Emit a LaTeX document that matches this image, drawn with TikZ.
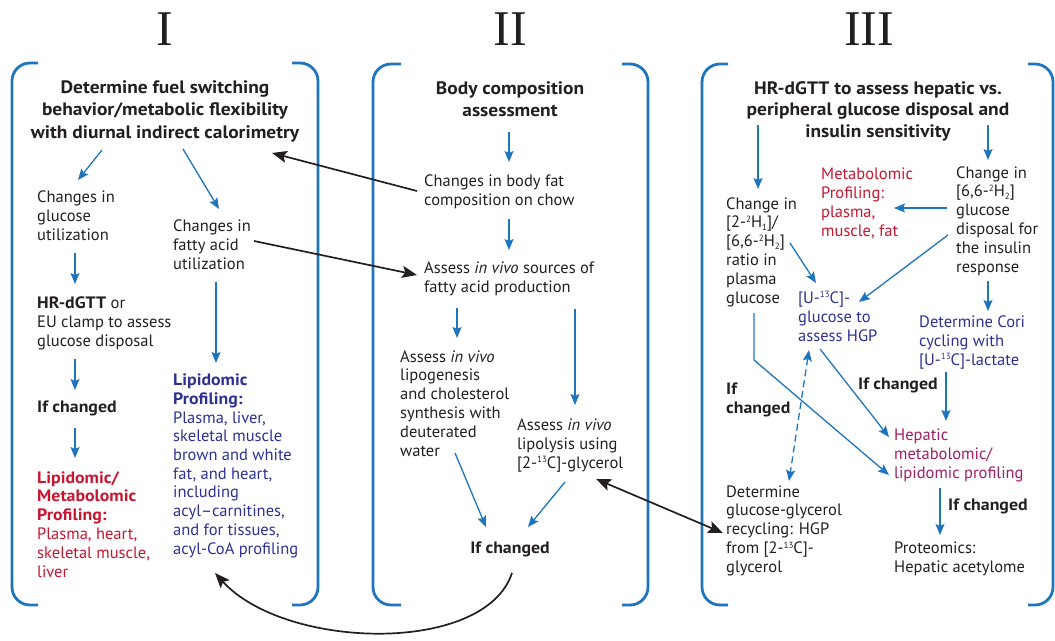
\documentclass[tikz,border=0pt]{standalone}
\usepackage{fontspec}
\setmainfont{PT Sans}[BoldFeatures={FakeStretch=1.08}]
\newfontfamily\numfont{Liberation Serif}
\usetikzlibrary{arrows.meta}
\definecolor{bl}{RGB}{30,117,190}
\definecolor{ink}{RGB}{35,31,32}
\definecolor{navy}{RGB}{46,49,146}
\definecolor{rd}{RGB}{200,22,48}
\definecolor{mag}{RGB}{160,30,100}
\newcommand\mysup[1]{\raisebox{0.62ex}{\fontsize{9}{9}\selectfont #1}}
\newcommand\mysub[1]{\raisebox{-0.35ex}{\fontsize{9}{9}\selectfont #1}}
\begin{document}
\begin{tikzpicture}[x=1pt,y=-1pt,
  txt/.style={inner sep=0pt, anchor=base west, align=left, font=\fontsize{16.5}{18.8}\selectfont, text=ink},
  ttl/.style={inner sep=0pt, anchor=base, align=center, font=\fontsize{18}{22.3}\selectfont\bfseries, text=ink},
  num/.style={inner sep=0pt, font=\numfont\fontsize{50}{50}\selectfont, text=ink},
  brk/.style={draw=bl, line width=2.8pt, rounded corners=18pt},
  barr/.style={draw=bl, line width=1.3pt, -{Stealth[length=11pt,width=9pt,inset=2pt]}},
  bdarr/.style={draw=bl, line width=1.3pt, dash pattern=on 7pt off 4pt, {Stealth[length=11pt,width=9pt,inset=2pt]}-{Stealth[length=11pt,width=9pt,inset=2pt]}},
  karr/.style={draw=ink, line width=1.7pt, -{Stealth[length=15pt,width=12pt,inset=3pt]}},
  kdarr/.style={draw=ink, line width=1.7pt, {Stealth[length=15pt,width=12pt,inset=3pt]}-{Stealth[length=15pt,width=12pt,inset=3pt]}}
]
\useasboundingbox (0,0) rectangle (1055,640);

% numerals
\node[num] (nI) at (165,29) {I};
\node[num] (nII) at (510,29) {II};
\node[num] (nIII) at (869,29) {III};

% brackets
\draw[brk] (38,63) -- (12,63) -- (12,605) -- (38,605);
\draw[brk] (292,63) -- (318,63) -- (318,605) -- (292,605);
\draw[brk] (401,64) -- (373,64) -- (373,605) -- (401,605);
\draw[brk] (622,64) -- (648,64) -- (648,605) -- (622,605);
\draw[brk] (728,64) -- (702,64) -- (702,605) -- (728,605);
\draw[brk] (1028,64) -- (1053,64) -- (1053,605) -- (1028,605);

% ---------- Panel I ----------
\node[ttl] (t1) at (165,138) {Determine fuel switching\\behavior/metabolic flexibility\\with diurnal indirect calorimetry};
\node[txt,font=\fontsize{16.5}{19}\selectfont] (g1) at (37,240) {Changes in\\glucose\\utilization};
\node[txt,font=\fontsize{16.5}{18.6}\selectfont] (f1) at (173,269) {Changes in\\fatty acid\\utilization};
\node[txt,font=\fontsize{16.5}{19}\selectfont] (h1) at (37,346) {\textbf{HR-dGTT} or\\EU clamp to assess\\glucose disposal};
\node[txt,font=\fontsize{16.5}{18.8}\selectfont\bfseries] (ic1) at (37,412) {If changed};
\node[txt,text=rd] (lm1) at (37,577) {\textbf{Lipidomic/}\\\textbf{Metabolomic}\\\textbf{Profiling:}\\Plasma, heart,\\skeletal muscle,\\liver};
\node[txt,text=navy,font=\fontsize{16.5}{18.7}\selectfont] (lp1) at (173,554) {\textbf{Lipidomic}\\\textbf{Profiling:}\\Plasma, liver,\\skeletal muscle\\brown and white\\fat, and heart,\\including\\acyl–carnitines,\\and for tissues,\\acyl-CoA profiling};

\coordinate (a1s) at (102,150); \coordinate (a1e) at (78,180);
\coordinate (a2s) at (183,149); \coordinate (a2e) at (219,209);
\coordinate (a3s) at (75,253);  \coordinate (a3e) at (75,284);
\coordinate (a4s) at (216,282); \coordinate (a4e) at (216,363);
\coordinate (a5s) at (75,359);  \coordinate (a5e) at (75,390);
\coordinate (a6s) at (75,428);  \coordinate (a6e) at (75,458);
\draw[barr] (a1s) -- (a1e);
\draw[barr] (a2s) -- (a2e);
\draw[barr] (a3s) -- (a3e);
\draw[barr] (a4s) -- (a4e);
\draw[barr] (a5s) -- (a5e);
\draw[barr] (a6s) -- (a6e);

% ---------- Panel II ----------
\node[ttl,font=\fontsize{18}{22}\selectfont\bfseries] (t2) at (510,116) {Body composition\\assessment};
\node[txt,font=\fontsize{16.5}{18.5}\selectfont] (c2) at (424,205) {Changes in body fat\\composition on chow};
\node[txt,font=\fontsize{16.5}{19}\selectfont] (a2) at (424,292) {Assess \textit{in vivo} sources of\\fatty acid production};
\node[txt] (lg2) at (400,456) {Assess \textit{in vivo}\\lipogenesis\\and cholesterol\\synthesis with\\deuterated\\water};
\node[txt,font=\fontsize{16.5}{19}\selectfont] (lp2) at (517,468) {Assess \textit{in vivo}\\lipolysis using\\{[2-\mysup{13}C]-glycerol}};
\node[ttl,font=\fontsize{16.5}{18}\selectfont\bfseries] (ic2) at (510,553) {If changed};

\coordinate (b1s) at (509,132); \coordinate (b1e) at (509,162);
\coordinate (b2s) at (509,219); \coordinate (b2e) at (509,250);
\coordinate (b3s) at (457,308); \coordinate (b3e) at (457,338);
\coordinate (b4s) at (575,309); \coordinate (b4e) at (575,405);
\coordinate (b5s) at (455,453); \coordinate (b5e) at (486,527);
\coordinate (b6s) at (565,482); \coordinate (b6e) at (528,527);
\draw[barr] (b1s) -- (b1e);
\draw[barr] (b2s) -- (b2e);
\draw[barr] (b3s) -- (b3e);
\draw[barr] (b4s) -- (b4e);
\draw[barr] (b5s) -- (b5e);
\draw[barr] (b6s) -- (b6e);

% ---------- Panel III ----------
\node[ttl,font=\fontsize{18}{21.5}\selectfont\bfseries] (t3) at (878,137) {HR-dGTT to assess hepatic vs.\\peripheral glucose disposal and\\insulin sensitivity};
\node[txt,text=rd,font=\fontsize{16.5}{19}\selectfont] (mp3) at (821,236) {Metabolomic\\Profiling:\\plasma,\\muscle, fat};
\node[txt] (chr) at (956,272) {Change in\\{[6,6-\mysup{2}H\mysub{2}]}\\glucose\\disposal for\\the insulin\\response};
\node[txt] (chl) at (726,303) {Change in\\{[2-\mysup{2}H\mysub{1}]/}\\{[6,6-\mysup{2}H\mysub{2}]}\\ratio in\\plasma\\glucose};
\node[txt,text=navy,font=\fontsize{16.5}{19}\selectfont] (u3) at (798,341) {{[U-\mysup{13}C]-}\\glucose to\\assess HGP};
\node[txt,text=navy,font=\fontsize{16.5}{19}\selectfont] (cori) at (919,365) {Determine Cori\\cycling with\\{[U-\mysup{13}C]-lactate}};
\node[txt,font=\fontsize{16.5}{18.5}\selectfont\bfseries] (ic3a) at (726,413) {If\\changed};
\node[txt,font=\fontsize{16.5}{18}\selectfont\bfseries] (ic3b) at (858,389) {If changed};
\node[txt,text=mag,font=\fontsize{16.5}{19}\selectfont] (hep) at (894,478) {Hepatic\\metabolomic/\\lipidomic profiling};
\node[txt,font=\fontsize{16.5}{18}\selectfont\bfseries] (ic3c) at (948,510) {If changed};
\node[txt,font=\fontsize{16.5}{19}\selectfont] (prot) at (894,572) {Proteomics:\\Hepatic acetylome};
\node[txt,font=\fontsize{16.5}{18.7}\selectfont] (det) at (726,572) {Determine\\glucose-glycerol\\recycling: HGP\\from [2-\mysup{13}C]-\\glycerol};

\coordinate (c1s) at (758,125); \coordinate (c1e) at (758,189);
\coordinate (c2s) at (988,125); \coordinate (c2e) at (988,160);
\coordinate (c3s) at (947,208); \coordinate (c3e) at (894,208);
\coordinate (c4s) at (790,243); \coordinate (c4e) at (816,283);
\coordinate (c5s) at (948,235); \coordinate (c5e) at (859,302);
\coordinate (c6s) at (988,281); \coordinate (c6e) at (988,311);
\coordinate (c7s) at (754,313); \coordinate (c7m) at (754,360); \coordinate (c7e) at (889,475);
\coordinate (c8s) at (820,349); \coordinate (c8e) at (889,437);
\coordinate (c9s) at (809,350); \coordinate (c9e) at (789,481);
\coordinate (c10s) at (946,372); \coordinate (c10e) at (946,421);
\coordinate (c11s) at (940,488); \coordinate (c11e) at (940,535);
\draw[barr] (c1s) -- (c1e);
\draw[barr] (c2s) -- (c2e);
\draw[barr] (c3s) -- (c3e);
\draw[barr] (c4s) -- (c4e);
\draw[barr] (c5s) -- (c5e);
\draw[barr] (c6s) -- (c6e);
\draw[barr] (c7s) -- (c7m) -- (c7e);
\draw[barr] (c8s) -- (c8e);
\draw[bdarr] (c9s) -- (c9e);
\draw[barr] (c10s) -- (c10e);
\draw[barr] (c11s) -- (c11e);

% ---------- black connectors ----------
\coordinate (k1s) at (417,191); \coordinate (k1e) at (272,153);
\coordinate (k2s) at (254,241); \coordinate (k2e) at (417,275);
\coordinate (k3s) at (596,479); \coordinate (k3e) at (723,533);
\coordinate (k4s) at (512,573); \coordinate (k4e) at (215,573);
\draw[karr] (k1s) -- (k1e);
\draw[karr] (k2s) -- (k2e);
\draw[kdarr] (k3s) -- (k3e);
\draw[karr] (k4s) .. controls (485,655) and (285,650) .. (k4e);
\end{tikzpicture}
\end{document}
